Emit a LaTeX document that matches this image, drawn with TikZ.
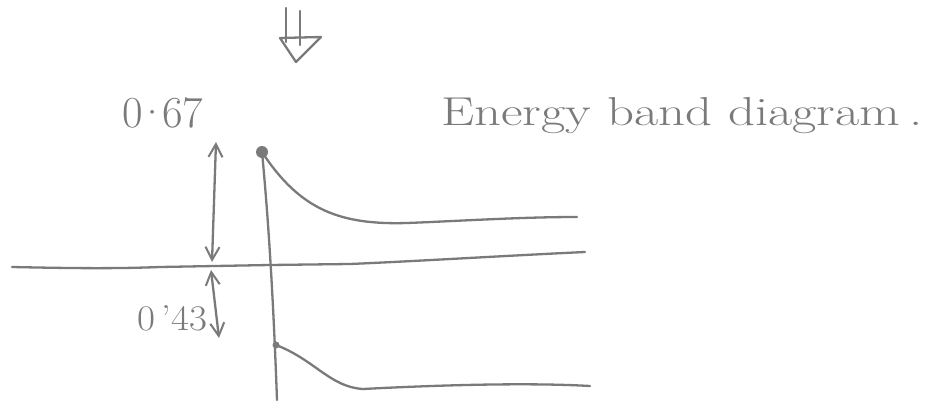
\documentclass[tikz,border=0pt]{standalone}
\usetikzlibrary{arrows.meta}
\definecolor{ink}{RGB}{122,122,122}
\begin{document}
\begin{tikzpicture}[x=1pt,y=-1pt,
  pen/.style={draw=ink,line width=2.3pt,line cap=round,line join=round},
  dim/.style={pen,{Straight Barb[length=13pt,width=14pt,line width=2pt]}-{Straight Barb[length=13pt,width=14pt,line width=2pt]}},
  lbl/.style={text=ink,inner sep=0pt}]
\useasboundingbox[fill=white] (0,0) rectangle (927,404);
% top hollow arrow
\coordinate (ta1) at (286,8);
\coordinate (ta2) at (286,42);
\coordinate (tb1) at (300,11);
\coordinate (tb2) at (300,45);
\coordinate (tl) at (280,38);
\coordinate (tr) at (321,37);
\coordinate (tt) at (296,62);
\draw[pen] (ta1) -- (ta2);
\draw[pen] (tb1) -- (tb2);
\draw[pen] (tl) -- (tr) -- (tt) -- cycle;
% labels
\node[lbl,anchor=base west] (v67) at (122,128) {\resizebox{81pt}{30pt}{\fontsize{42}{46}\selectfont 0\kern-6pt·\kern-6pt67}};
\node[lbl,anchor=base west] (title) at (441,125) {\resizebox{481pt}{28pt}{\fontsize{42}{46}\selectfont Energy band diagram\,.}};
\node[lbl,anchor=base west] (v43) at (137,330) {\resizebox{70pt}{25pt}{\fontsize{38}{42}\selectfont 0\,'43}};
% Fermi level
\coordinate (f0) at (12,267);
\coordinate (fj) at (270,265);
\coordinate (f3) at (350,264);
\coordinate (f4) at (585,252);
\draw[pen] (f0) .. controls (60,268) and (110,269) .. (160,267)
           -- (fj) -- (f3) .. controls (420,261) and (500,256) .. (f4);
% junction line
\coordinate (dot) at (262,152);
\coordinate (jb) at (277,400);
\coordinate (vb) at (276,345);
\draw[pen] (dot) .. controls (268,215) and (273,290) .. (jb);
\fill[ink] (dot) circle (6pt);
% conduction band
\coordinate (cbe) at (577,217);
\draw[pen] (dot) .. controls (300,210) and (340,225) .. (407,223)
          .. controls (460,221) and (520,217) .. (cbe);
% valence band
\coordinate (vbe) at (590,386);
\draw[pen] (vb) .. controls (315,360) and (330,387) .. (363,389)
          .. controls (420,386) and (520,382) .. (vbe);
\fill[ink] (vb) circle (3.5pt);
% dimension arrows
\coordinate (a1) at (212,262);
\coordinate (a2) at (216,142);
\draw[dim] (a1) -- (a2);
\coordinate (b1) at (211,270);
\coordinate (b2) at (219,338);
\draw[dim] (b1) -- (b2);
\end{tikzpicture}
\end{document}
